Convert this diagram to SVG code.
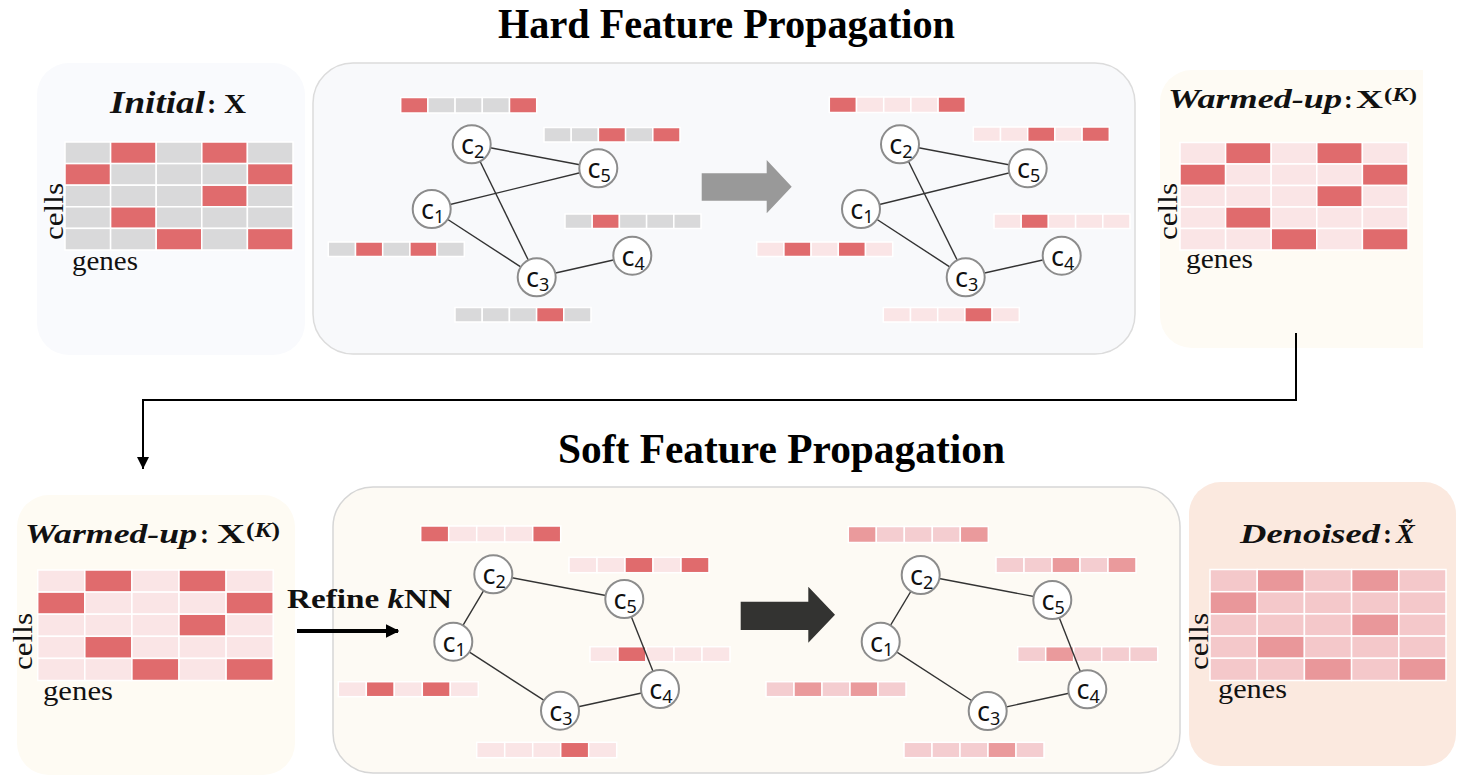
<svg xmlns="http://www.w3.org/2000/svg" width="1458" height="778" viewBox="0 0 1458 778">
  <defs>
    <style>
      .title { font-family: "Liberation Serif", "Times New Roman", serif; font-weight: bold; font-size: 43px; fill: #000; }
      .head { font-family: "Liberation Serif", serif; font-weight: bold; fill: #111; }
      .hi { font-style: italic; }
      .axis { font-family: "Liberation Serif", serif; font-size: 28px; fill: #111; }
      .lbl { font-family: "Noto Sans", "DejaVu Sans", sans-serif; font-size: 27px; fill: #111; }
      .sub { font-size: 18px; }
      .node { fill: #fff; stroke: #8c8c8c; stroke-width: 2; }
      .edge { stroke: #333; stroke-width: 1.4; fill: none; }
      .g { fill: #d9d9da; }
      .r { fill: #e06b6d; }
      .l { fill: #fae5e6; }
      .s { fill: #f4cdd0; }
      .m { fill: #ea9a9c; }
      .ds { fill: #f4c8ca; }
      .dm { fill: #e9979a; }
      .cell { stroke: #fff; stroke-width: 1.5; }
      .wire { stroke: #000; stroke-width: 2; fill: none; }
    </style>
    <marker id="arrowDown" viewBox="0 0 10 10" refX="10" refY="5" markerWidth="6" markerHeight="6" orient="auto" markerUnits="strokeWidth">
      <path d="M0,0 L10,5 L0,10 z" fill="#000"/>
    </marker>
    <marker id="arrowRefine" viewBox="0 0 10 10" refX="9" refY="5" markerWidth="3.4" markerHeight="3.8" orient="auto" markerUnits="strokeWidth">
      <path d="M0,0 L10,5 L0,10 z" fill="#000"/>
    </marker>
    <clipPath id="clipWarmTop">
      <rect x="1150" y="60" width="273" height="300"/>
    </clipPath>
  </defs>

  <!-- section titles -->
  <text class="title" x="498" y="38" textLength="457" lengthAdjust="spacingAndGlyphs">Hard Feature Propagation</text>
  <text class="title" x="558" y="463" textLength="447" lengthAdjust="spacingAndGlyphs">Soft Feature Propagation</text>

  <!-- ===== panels ===== -->
  <g id="panel-initial">
    <rect x="37" y="63" width="268" height="292" rx="32" fill="#f9fafd"/>
    <text class="head hi" x="110" y="113" font-size="31" textLength="95" lengthAdjust="spacingAndGlyphs">Initial</text>
    <text class="head" x="207" y="113" font-size="28">:</text>
    <text class="head" x="224" y="113" font-size="28" textLength="22" lengthAdjust="spacingAndGlyphs">X</text>
    <g class="cell">
      <rect class="g" x="65" y="142" width="45.6" height="21.6"/><rect class="r" x="110.6" y="142" width="45.6" height="21.6"/><rect class="g" x="156.2" y="142" width="45.6" height="21.6"/><rect class="r" x="201.8" y="142" width="45.6" height="21.6"/><rect class="g" x="247.4" y="142" width="45.6" height="21.6"/>
      <rect class="r" x="65" y="163.6" width="45.6" height="21.6"/><rect class="g" x="110.6" y="163.6" width="45.6" height="21.6"/><rect class="g" x="156.2" y="163.6" width="45.6" height="21.6"/><rect class="g" x="201.8" y="163.6" width="45.6" height="21.6"/><rect class="r" x="247.4" y="163.6" width="45.6" height="21.6"/>
      <rect class="g" x="65" y="185.2" width="45.6" height="21.6"/><rect class="g" x="110.6" y="185.2" width="45.6" height="21.6"/><rect class="g" x="156.2" y="185.2" width="45.6" height="21.6"/><rect class="r" x="201.8" y="185.2" width="45.6" height="21.6"/><rect class="g" x="247.4" y="185.2" width="45.6" height="21.6"/>
      <rect class="g" x="65" y="206.8" width="45.6" height="21.6"/><rect class="r" x="110.6" y="206.8" width="45.6" height="21.6"/><rect class="g" x="156.2" y="206.8" width="45.6" height="21.6"/><rect class="g" x="201.8" y="206.8" width="45.6" height="21.6"/><rect class="g" x="247.4" y="206.8" width="45.6" height="21.6"/>
      <rect class="g" x="65" y="228.4" width="45.6" height="21.6"/><rect class="g" x="110.6" y="228.4" width="45.6" height="21.6"/><rect class="r" x="156.2" y="228.4" width="45.6" height="21.6"/><rect class="g" x="201.8" y="228.4" width="45.6" height="21.6"/><rect class="r" x="247.4" y="228.4" width="45.6" height="21.6"/>
    </g>
    <text class="axis" transform="translate(63,211.5) rotate(-90)" text-anchor="middle" textLength="57" lengthAdjust="spacingAndGlyphs">cells</text>
    <text class="axis" x="72" y="270" textLength="66" lengthAdjust="spacingAndGlyphs">genes</text>
  </g>

  <g id="panel-hard">
    <rect x="313" y="63" width="822" height="291" rx="40" fill="#f8f9fb" stroke="#dcdcdc" stroke-width="1.5"/>
    <!-- gene bars before propagation -->
    <g class="cell">
      <rect class="r" x="400.7" y="97.5" width="27.2" height="15.5"/><rect class="g" x="427.9" y="97.5" width="27.2" height="15.5"/><rect class="g" x="455.1" y="97.5" width="27.2" height="15.5"/><rect class="g" x="482.3" y="97.5" width="27.2" height="15.5"/><rect class="r" x="509.5" y="97.5" width="27.2" height="15.5"/>
      <rect class="g" x="544" y="127.5" width="27.2" height="14.5"/><rect class="g" x="571.2" y="127.5" width="27.2" height="14.5"/><rect class="r" x="598.4" y="127.5" width="27.2" height="14.5"/><rect class="g" x="625.6" y="127.5" width="27.2" height="14.5"/><rect class="r" x="652.8" y="127.5" width="27.2" height="14.5"/>
      <rect class="g" x="565" y="214" width="27.2" height="14.5"/><rect class="r" x="592.2" y="214" width="27.2" height="14.5"/><rect class="g" x="619.4" y="214" width="27.2" height="14.5"/><rect class="g" x="646.6" y="214" width="27.2" height="14.5"/><rect class="g" x="673.8" y="214" width="27.2" height="14.5"/>
      <rect class="g" x="328.3" y="242" width="27.2" height="14.5"/><rect class="r" x="355.5" y="242" width="27.2" height="14.5"/><rect class="g" x="382.7" y="242" width="27.2" height="14.5"/><rect class="r" x="409.9" y="242" width="27.2" height="14.5"/><rect class="g" x="437.1" y="242" width="27.2" height="14.5"/>
      <rect class="g" x="455" y="307.5" width="27.2" height="14.5"/><rect class="g" x="482.2" y="307.5" width="27.2" height="14.5"/><rect class="g" x="509.4" y="307.5" width="27.2" height="14.5"/><rect class="r" x="536.6" y="307.5" width="27.2" height="14.5"/><rect class="g" x="563.8" y="307.5" width="27.2" height="14.5"/>
    </g>
    <!-- gene bars after propagation -->
    <g class="cell">
      <rect class="r" x="829.3" y="97" width="27.2" height="15.5"/><rect class="l" x="856.5" y="97" width="27.2" height="15.5"/><rect class="l" x="883.7" y="97" width="27.2" height="15.5"/><rect class="l" x="910.9" y="97" width="27.2" height="15.5"/><rect class="r" x="938.1" y="97" width="27.2" height="15.5"/>
      <rect class="l" x="973.3" y="127" width="27.2" height="14.5"/><rect class="l" x="1000.5" y="127" width="27.2" height="14.5"/><rect class="r" x="1027.7" y="127" width="27.2" height="14.5"/><rect class="l" x="1054.9" y="127" width="27.2" height="14.5"/><rect class="r" x="1082.1" y="127" width="27.2" height="14.5"/>
      <rect class="l" x="994" y="214" width="27.2" height="14.5"/><rect class="r" x="1021.2" y="214" width="27.2" height="14.5"/><rect class="l" x="1048.4" y="214" width="27.2" height="14.5"/><rect class="l" x="1075.6" y="214" width="27.2" height="14.5"/><rect class="l" x="1102.8" y="214" width="27.2" height="14.5"/>
      <rect class="l" x="756.7" y="242" width="27.2" height="14.5"/><rect class="r" x="783.9" y="242" width="27.2" height="14.5"/><rect class="l" x="811.1" y="242" width="27.2" height="14.5"/><rect class="r" x="838.3" y="242" width="27.2" height="14.5"/><rect class="l" x="865.5" y="242" width="27.2" height="14.5"/>
      <rect class="l" x="883.3" y="307.5" width="27.2" height="14.5"/><rect class="l" x="910.5" y="307.5" width="27.2" height="14.5"/><rect class="l" x="937.7" y="307.5" width="27.2" height="14.5"/><rect class="r" x="964.9" y="307.5" width="27.2" height="14.5"/><rect class="l" x="992.1" y="307.5" width="27.2" height="14.5"/>
    </g>
    <!-- propagation arrow -->
    <polygon points="701.7,173.3 766.7,173.3 766.7,160 791.7,186.7 766.7,213.3 766.7,200.7 701.7,200.7" fill="#999"/>
  </g>

  <g id="panel-warm-top">
    <rect x="1160" y="70" width="300" height="278" rx="32" fill="#fefbf4" clip-path="url(#clipWarmTop)"/>
    <text class="head hi" x="1168" y="108" font-size="27" textLength="174" lengthAdjust="spacingAndGlyphs">Warmed-up</text>
    <text class="head" x="1344" y="108" font-size="26">:</text>
    <text class="head" x="1356" y="108" font-size="26" textLength="27" lengthAdjust="spacingAndGlyphs">X</text>
    <text class="head" x="1384" y="101" font-size="19" textLength="33" lengthAdjust="spacingAndGlyphs">(<tspan class="hi">K</tspan>)</text>
    <g class="cell">
      <rect class="l" x="1180" y="142.5" width="45.6" height="21.5"/><rect class="r" x="1225.6" y="142.5" width="45.6" height="21.5"/><rect class="l" x="1271.2" y="142.5" width="45.6" height="21.5"/><rect class="r" x="1316.8" y="142.5" width="45.6" height="21.5"/><rect class="l" x="1362.4" y="142.5" width="45.6" height="21.5"/>
      <rect class="r" x="1180" y="164" width="45.6" height="21.5"/><rect class="l" x="1225.6" y="164" width="45.6" height="21.5"/><rect class="l" x="1271.2" y="164" width="45.6" height="21.5"/><rect class="l" x="1316.8" y="164" width="45.6" height="21.5"/><rect class="r" x="1362.4" y="164" width="45.6" height="21.5"/>
      <rect class="l" x="1180" y="185.5" width="45.6" height="21.5"/><rect class="l" x="1225.6" y="185.5" width="45.6" height="21.5"/><rect class="l" x="1271.2" y="185.5" width="45.6" height="21.5"/><rect class="r" x="1316.8" y="185.5" width="45.6" height="21.5"/><rect class="l" x="1362.4" y="185.5" width="45.6" height="21.5"/>
      <rect class="l" x="1180" y="207" width="45.6" height="21.5"/><rect class="r" x="1225.6" y="207" width="45.6" height="21.5"/><rect class="l" x="1271.2" y="207" width="45.6" height="21.5"/><rect class="l" x="1316.8" y="207" width="45.6" height="21.5"/><rect class="l" x="1362.4" y="207" width="45.6" height="21.5"/>
      <rect class="l" x="1180" y="228.5" width="45.6" height="21.5"/><rect class="l" x="1225.6" y="228.5" width="45.6" height="21.5"/><rect class="r" x="1271.2" y="228.5" width="45.6" height="21.5"/><rect class="l" x="1316.8" y="228.5" width="45.6" height="21.5"/><rect class="r" x="1362.4" y="228.5" width="45.6" height="21.5"/>
    </g>
    <text class="axis" transform="translate(1177,211.5) rotate(-90)" text-anchor="middle" textLength="57" lengthAdjust="spacingAndGlyphs">cells</text>
    <text class="axis" x="1186" y="268" textLength="67" lengthAdjust="spacingAndGlyphs">genes</text>
  </g>

  <g id="panel-warm-bottom">
    <rect x="17" y="495" width="278" height="280" rx="32" fill="#fefbf3"/>
    <text class="head hi" x="25" y="543" font-size="28" textLength="172" lengthAdjust="spacingAndGlyphs">Warmed-up</text>
    <text class="head" x="200" y="543" font-size="27">:</text>
    <text class="head" x="217" y="543" font-size="27" textLength="28" lengthAdjust="spacingAndGlyphs">X</text>
    <text class="head" x="246" y="537" font-size="20" textLength="34" lengthAdjust="spacingAndGlyphs">(<tspan class="hi">K</tspan>)</text>
    <g class="cell">
      <rect class="l" x="37.7" y="570" width="47.1" height="22.1"/><rect class="r" x="84.8" y="570" width="47.1" height="22.1"/><rect class="l" x="131.9" y="570" width="47.1" height="22.1"/><rect class="r" x="179" y="570" width="47.1" height="22.1"/><rect class="l" x="226.1" y="570" width="47.1" height="22.1"/>
      <rect class="r" x="37.7" y="592.1" width="47.1" height="22.1"/><rect class="l" x="84.8" y="592.1" width="47.1" height="22.1"/><rect class="l" x="131.9" y="592.1" width="47.1" height="22.1"/><rect class="l" x="179" y="592.1" width="47.1" height="22.1"/><rect class="r" x="226.1" y="592.1" width="47.1" height="22.1"/>
      <rect class="l" x="37.7" y="614.2" width="47.1" height="22.1"/><rect class="l" x="84.8" y="614.2" width="47.1" height="22.1"/><rect class="l" x="131.9" y="614.2" width="47.1" height="22.1"/><rect class="r" x="179" y="614.2" width="47.1" height="22.1"/><rect class="l" x="226.1" y="614.2" width="47.1" height="22.1"/>
      <rect class="l" x="37.7" y="636.3" width="47.1" height="22.1"/><rect class="r" x="84.8" y="636.3" width="47.1" height="22.1"/><rect class="l" x="131.9" y="636.3" width="47.1" height="22.1"/><rect class="l" x="179" y="636.3" width="47.1" height="22.1"/><rect class="l" x="226.1" y="636.3" width="47.1" height="22.1"/>
      <rect class="l" x="37.7" y="658.4" width="47.1" height="22.1"/><rect class="l" x="84.8" y="658.4" width="47.1" height="22.1"/><rect class="r" x="131.9" y="658.4" width="47.1" height="22.1"/><rect class="l" x="179" y="658.4" width="47.1" height="22.1"/><rect class="r" x="226.1" y="658.4" width="47.1" height="22.1"/>
    </g>
    <text class="axis" transform="translate(32,641.5) rotate(-90)" text-anchor="middle" textLength="57" lengthAdjust="spacingAndGlyphs">cells</text>
    <text class="axis" x="43" y="700" textLength="70" lengthAdjust="spacingAndGlyphs">genes</text>
  </g>

  <g id="panel-soft">
    <rect x="333" y="487" width="847" height="286" rx="40" fill="#fdfaf4" stroke="#d6d6d6" stroke-width="1.5"/>
    <!-- gene bars before soft propagation -->
    <g class="cell">
      <rect class="r" x="420.7" y="526" width="28" height="16"/><rect class="l" x="448.7" y="526" width="28" height="16"/><rect class="l" x="476.7" y="526" width="28" height="16"/><rect class="l" x="504.7" y="526" width="28" height="16"/><rect class="r" x="532.7" y="526" width="28" height="16"/>
      <rect class="l" x="569" y="557.3" width="28" height="15.4"/><rect class="l" x="597" y="557.3" width="28" height="15.4"/><rect class="r" x="625" y="557.3" width="28" height="15.4"/><rect class="l" x="653" y="557.3" width="28" height="15.4"/><rect class="r" x="681" y="557.3" width="28" height="15.4"/>
      <rect class="l" x="590" y="646.7" width="28" height="15"/><rect class="r" x="618" y="646.7" width="28" height="15"/><rect class="l" x="646" y="646.7" width="28" height="15"/><rect class="l" x="674" y="646.7" width="28" height="15"/><rect class="l" x="702" y="646.7" width="28" height="15"/>
      <rect class="l" x="338.3" y="681.7" width="28" height="15"/><rect class="r" x="366.3" y="681.7" width="28" height="15"/><rect class="l" x="394.3" y="681.7" width="28" height="15"/><rect class="r" x="422.3" y="681.7" width="28" height="15"/><rect class="l" x="450.3" y="681.7" width="28" height="15"/>
      <rect class="l" x="476.7" y="742.3" width="28" height="15.4"/><rect class="l" x="504.7" y="742.3" width="28" height="15.4"/><rect class="l" x="532.7" y="742.3" width="28" height="15.4"/><rect class="r" x="560.7" y="742.3" width="28" height="15.4"/><rect class="l" x="588.7" y="742.3" width="28" height="15.4"/>
    </g>
    <!-- gene bars after soft propagation -->
    <g class="cell">
      <rect class="m" x="848.3" y="526.5" width="28" height="16"/><rect class="s" x="876.3" y="526.5" width="28" height="16"/><rect class="s" x="904.3" y="526.5" width="28" height="16"/><rect class="s" x="932.3" y="526.5" width="28" height="16"/><rect class="m" x="960.3" y="526.5" width="28" height="16"/>
      <rect class="s" x="996" y="557.3" width="28" height="15.4"/><rect class="s" x="1024" y="557.3" width="28" height="15.4"/><rect class="m" x="1052" y="557.3" width="28" height="15.4"/><rect class="s" x="1080" y="557.3" width="28" height="15.4"/><rect class="m" x="1108" y="557.3" width="28" height="15.4"/>
      <rect class="s" x="1017.7" y="646.7" width="28" height="15"/><rect class="m" x="1045.7" y="646.7" width="28" height="15"/><rect class="s" x="1073.7" y="646.7" width="28" height="15"/><rect class="s" x="1101.7" y="646.7" width="28" height="15"/><rect class="s" x="1129.7" y="646.7" width="28" height="15"/>
      <rect class="s" x="766" y="681.7" width="28" height="15"/><rect class="m" x="794" y="681.7" width="28" height="15"/><rect class="s" x="822" y="681.7" width="28" height="15"/><rect class="m" x="850" y="681.7" width="28" height="15"/><rect class="s" x="878" y="681.7" width="28" height="15"/>
      <rect class="s" x="904" y="742.3" width="28" height="15.4"/><rect class="s" x="932" y="742.3" width="28" height="15.4"/><rect class="s" x="960" y="742.3" width="28" height="15.4"/><rect class="m" x="988" y="742.3" width="28" height="15.4"/><rect class="s" x="1016" y="742.3" width="28" height="15.4"/>
    </g>
    <!-- propagation arrow -->
    <polygon points="740.7,601.7 808.3,601.7 808.3,586.7 835,614.7 808.3,642.7 808.3,630 740.7,630" fill="#333331"/>
  </g>

  <g id="panel-denoised">
    <rect x="1189" y="482" width="267" height="284" rx="32" fill="#fbe9df"/>
    <text class="head hi" x="1240" y="543" font-size="28" textLength="140" lengthAdjust="spacingAndGlyphs">Denoised</text>
    <text class="head" x="1383" y="543" font-size="27">:</text>
    <text class="head hi" x="1396" y="543" font-size="28">X&#x303;</text>
    <g class="cell">
      <rect class="ds" x="1210" y="569.5" width="47.2" height="22.2"/><rect class="dm" x="1257.2" y="569.5" width="47.2" height="22.2"/><rect class="ds" x="1304.4" y="569.5" width="47.2" height="22.2"/><rect class="dm" x="1351.6" y="569.5" width="47.2" height="22.2"/><rect class="ds" x="1398.8" y="569.5" width="47.2" height="22.2"/>
      <rect class="dm" x="1210" y="591.7" width="47.2" height="22.2"/><rect class="ds" x="1257.2" y="591.7" width="47.2" height="22.2"/><rect class="ds" x="1304.4" y="591.7" width="47.2" height="22.2"/><rect class="ds" x="1351.6" y="591.7" width="47.2" height="22.2"/><rect class="ds" x="1398.8" y="591.7" width="47.2" height="22.2"/>
      <rect class="ds" x="1210" y="613.9" width="47.2" height="22.2"/><rect class="ds" x="1257.2" y="613.9" width="47.2" height="22.2"/><rect class="ds" x="1304.4" y="613.9" width="47.2" height="22.2"/><rect class="dm" x="1351.6" y="613.9" width="47.2" height="22.2"/><rect class="ds" x="1398.8" y="613.9" width="47.2" height="22.2"/>
      <rect class="ds" x="1210" y="636.1" width="47.2" height="22.2"/><rect class="dm" x="1257.2" y="636.1" width="47.2" height="22.2"/><rect class="ds" x="1304.4" y="636.1" width="47.2" height="22.2"/><rect class="ds" x="1351.6" y="636.1" width="47.2" height="22.2"/><rect class="ds" x="1398.8" y="636.1" width="47.2" height="22.2"/>
      <rect class="ds" x="1210" y="658.3" width="47.2" height="22.2"/><rect class="ds" x="1257.2" y="658.3" width="47.2" height="22.2"/><rect class="dm" x="1304.4" y="658.3" width="47.2" height="22.2"/><rect class="ds" x="1351.6" y="658.3" width="47.2" height="22.2"/><rect class="dm" x="1398.8" y="658.3" width="47.2" height="22.2"/>
    </g>
    <text class="axis" transform="translate(1208,641.5) rotate(-90)" text-anchor="middle" textLength="57" lengthAdjust="spacingAndGlyphs">cells</text>
    <text class="axis" x="1218" y="698" textLength="69" lengthAdjust="spacingAndGlyphs">genes</text>
  </g>

  <!-- ===== connectors ===== -->
  <g id="connectors">
    <!-- graph edges: hard propagation, before -->
    <line class="edge" x1="471.7" y1="144.3" x2="598.3" y2="168.3"/>
    <line class="edge" x1="431.7" y1="209" x2="598.3" y2="168.3"/>
    <line class="edge" x1="471.7" y1="144.3" x2="536.7" y2="277.3"/>
    <line class="edge" x1="431.7" y1="209" x2="536.7" y2="277.3"/>
    <line class="edge" x1="536.7" y1="277.3" x2="632.3" y2="255.7"/>
    <!-- graph edges: hard propagation, after -->
    <line class="edge" x1="900" y1="144.3" x2="1027.7" y2="168.3"/>
    <line class="edge" x1="861" y1="209" x2="1027.7" y2="168.3"/>
    <line class="edge" x1="900" y1="144.3" x2="965.7" y2="277.3"/>
    <line class="edge" x1="861" y1="209" x2="965.7" y2="277.3"/>
    <line class="edge" x1="965.7" y1="277.3" x2="1061.7" y2="255.7"/>
    <!-- graph edges: refined kNN, before -->
    <line class="edge" x1="453.3" y1="641.7" x2="493.3" y2="574.3"/>
    <line class="edge" x1="493.3" y1="574.3" x2="624.3" y2="599"/>
    <line class="edge" x1="624.3" y1="599" x2="660" y2="689"/>
    <line class="edge" x1="660" y1="689" x2="560" y2="710.7"/>
    <line class="edge" x1="560" y1="710.7" x2="453.3" y2="641.7"/>
    <!-- graph edges: refined kNN, after -->
    <line class="edge" x1="880.7" y1="641.7" x2="920.7" y2="575"/>
    <line class="edge" x1="920.7" y1="575" x2="1052.3" y2="600"/>
    <line class="edge" x1="1052.3" y1="600" x2="1087.3" y2="689.3"/>
    <line class="edge" x1="1087.3" y1="689.3" x2="987.7" y2="711"/>
    <line class="edge" x1="987.7" y1="711" x2="880.7" y2="641.7"/>

    <!-- warm-up hand-off to the soft stage -->
    <polyline class="wire" points="1296,333 1296,400 143,400 143,469" marker-end="url(#arrowDown)"/>
    <!-- refine kNN -->
    <line x1="297" y1="631" x2="398" y2="631" stroke="#000" stroke-width="4" marker-end="url(#arrowRefine)"/>
    <text class="head" x="287" y="608" font-size="27" textLength="165" lengthAdjust="spacingAndGlyphs">Refine <tspan class="hi">k</tspan>NN</text>
  </g>

  <!-- ===== cell nodes ===== -->
  <g id="hard-before-nodes">
    <g id="hb-c1"><circle class="node" cx="431.7" cy="209" r="19"/><text class="lbl" x="421" y="219">c<tspan class="sub" dy="4">1</tspan></text></g>
    <g id="hb-c2"><circle class="node" cx="471.7" cy="144.3" r="19"/><text class="lbl" x="461" y="154.3">c<tspan class="sub" dy="4">2</tspan></text></g>
    <g id="hb-c3"><circle class="node" cx="536.7" cy="277.3" r="19"/><text class="lbl" x="526" y="287.3">c<tspan class="sub" dy="4">3</tspan></text></g>
    <g id="hb-c4"><circle class="node" cx="632.3" cy="255.7" r="19"/><text class="lbl" x="621.6" y="265.7">c<tspan class="sub" dy="4">4</tspan></text></g>
    <g id="hb-c5"><circle class="node" cx="598.3" cy="168.3" r="19"/><text class="lbl" x="587.6" y="178.3">c<tspan class="sub" dy="4">5</tspan></text></g>
  </g>
  <g id="hard-after-nodes">
    <g id="ha-c1"><circle class="node" cx="861" cy="209" r="19"/><text class="lbl" x="850.3" y="219">c<tspan class="sub" dy="4">1</tspan></text></g>
    <g id="ha-c2"><circle class="node" cx="900" cy="144.3" r="19"/><text class="lbl" x="889.3" y="154.3">c<tspan class="sub" dy="4">2</tspan></text></g>
    <g id="ha-c3"><circle class="node" cx="965.7" cy="277.3" r="19"/><text class="lbl" x="955" y="287.3">c<tspan class="sub" dy="4">3</tspan></text></g>
    <g id="ha-c4"><circle class="node" cx="1061.7" cy="255.7" r="19"/><text class="lbl" x="1051" y="265.7">c<tspan class="sub" dy="4">4</tspan></text></g>
    <g id="ha-c5"><circle class="node" cx="1027.7" cy="168.3" r="19"/><text class="lbl" x="1017" y="178.3">c<tspan class="sub" dy="4">5</tspan></text></g>
  </g>
  <g id="soft-before-nodes">
    <g id="sb-c1"><circle class="node" cx="453.3" cy="641.7" r="19"/><text class="lbl" x="442.6" y="651.7">c<tspan class="sub" dy="4">1</tspan></text></g>
    <g id="sb-c2"><circle class="node" cx="493.3" cy="574.3" r="19"/><text class="lbl" x="482.6" y="584.3">c<tspan class="sub" dy="4">2</tspan></text></g>
    <g id="sb-c3"><circle class="node" cx="560" cy="710.7" r="19"/><text class="lbl" x="549.3" y="720.7">c<tspan class="sub" dy="4">3</tspan></text></g>
    <g id="sb-c4"><circle class="node" cx="660" cy="689" r="19"/><text class="lbl" x="649.3" y="699">c<tspan class="sub" dy="4">4</tspan></text></g>
    <g id="sb-c5"><circle class="node" cx="624.3" cy="599" r="19"/><text class="lbl" x="613.6" y="609">c<tspan class="sub" dy="4">5</tspan></text></g>
  </g>
  <g id="soft-after-nodes">
    <g id="sa-c1"><circle class="node" cx="880.7" cy="641.7" r="19"/><text class="lbl" x="870" y="651.7">c<tspan class="sub" dy="4">1</tspan></text></g>
    <g id="sa-c2"><circle class="node" cx="920.7" cy="575" r="19"/><text class="lbl" x="910" y="585">c<tspan class="sub" dy="4">2</tspan></text></g>
    <g id="sa-c3"><circle class="node" cx="987.7" cy="711" r="19"/><text class="lbl" x="977" y="721">c<tspan class="sub" dy="4">3</tspan></text></g>
    <g id="sa-c4"><circle class="node" cx="1087.3" cy="689.3" r="19"/><text class="lbl" x="1076.6" y="699.3">c<tspan class="sub" dy="4">4</tspan></text></g>
    <g id="sa-c5"><circle class="node" cx="1052.3" cy="600" r="19"/><text class="lbl" x="1041.6" y="610">c<tspan class="sub" dy="4">5</tspan></text></g>
  </g>
</svg>
